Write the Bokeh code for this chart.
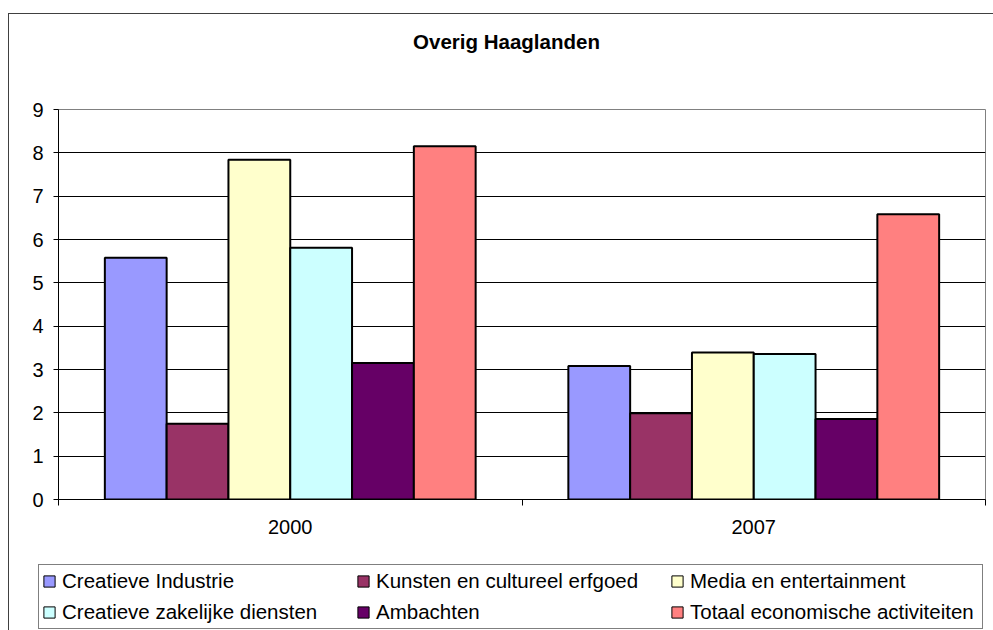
from bokeh.plotting import figure
from bokeh.layouts import column
from bokeh.models import FixedTicker, Legend, LegendItem, ColumnDataSource, Range1d, Label
from bokeh.embed import file_html
from bokeh.resources import INLINE

# ---- data ----
title_text = "Overig Haaglanden"
years = ["2000", "2007"]
series_names = [
    "Creatieve Industrie",
    "Kunsten en cultureel erfgoed",
    "Media en entertainment",
    "Creatieve zakelijke diensten",
    "Ambachten",
    "Totaal economische activiteiten",
]
creatieve_industrie = [5.58, 3.08]
kunsten_erfgoed = [1.75, 1.99]
media_entertainment = [7.84, 3.39]
zakelijke_diensten = [5.81, 3.36]
ambachten = [3.15, 1.86]
totaal_economisch = [8.15, 6.58]
y_ticks = [0, 1, 2, 3, 4, 5, 6, 7, 8, 9]

colors = ["#9999FF", "#993366", "#FFFFCC", "#CCFFFF", "#660066", "#FF8080"]
values = [creatieve_industrie, kunsten_erfgoed, media_entertainment,
          zakelijke_diensten, ambachten, totaal_economisch]

FONT = "Liberation Sans"
W = 984


def bare_figure(height):
    # strip whose visible ranges lie far away from every data value
    f = figure(width=W, height=height, x_range=Range1d(-101, -100), y_range=Range1d(199, 200),
               output_backend="svg", toolbar_location=None, title=None,
               x_axis_type=None, y_axis_type=None,
               min_border_left=0, min_border_right=0, min_border_top=0, min_border_bottom=0)
    if "frame_align" in f.properties():
        f.frame_align = False
    f.outline_line_color = None
    f.background_fill_color = "white"
    f.border_fill_color = "white"
    f.xgrid.visible = False
    f.ygrid.visible = False
    return f


# ---- title strip ----
pt = bare_figure(60)
pt.add_layout(Label(x=497, y=33, x_units="screen", y_units="screen", text=title_text,
                    text_align="center", text_baseline="alphabetic", text_font=FONT,
                    text_font_size="20.5px", text_font_style="bold", text_color="black"))

# ---- chart ----
p = figure(width=W, height=476,
           x_range=Range1d(0, len(years)), y_range=Range1d(y_ticks[0], y_ticks[-1]),
           output_backend="svg", toolbar_location=None,
           min_border_left=49, min_border_right=8,
           min_border_top=35, min_border_bottom=51)
p.background_fill_color = "white"
p.border_fill_color = "white"
p.outline_line_color = "#808080"
p.outline_line_width = 1

n = len(series_names)
group_w = 0.8
bw = group_w / n
sources = []
for i, (vals, col) in enumerate(zip(values, colors)):
    off = -group_w / 2 + bw * (i + 0.5)
    src = ColumnDataSource(dict(x=[k + 0.5 + off for k in range(len(years))], top=vals))
    sources.append(src)
    p.vbar(x="x", top="top", bottom=0, width=bw, source=src,
           fill_color=col, line_color="black", line_width=2)

p.yaxis.ticker = FixedTicker(ticks=y_ticks)
p.yaxis.major_tick_out = 5
p.yaxis.major_tick_in = 0
p.yaxis.minor_tick_line_color = None
p.yaxis.axis_line_color = "black"
p.yaxis.major_tick_line_color = "black"
p.yaxis.major_label_standoff = 10
p.yaxis.major_label_text_font = FONT
p.yaxis.major_label_text_font_size = "20px"
p.yaxis.major_label_text_color = "black"

centers = [k + 0.5 for k in range(len(years))]
p.xaxis.ticker = FixedTicker(ticks=centers, minor_ticks=list(range(len(years) + 1)))
p.xaxis.major_label_overrides = {c: y for c, y in zip(centers, years)}
p.xaxis.major_tick_line_color = None
p.xaxis.major_tick_out = 0
p.xaxis.major_tick_in = 0
p.xaxis.minor_tick_line_color = "black"
p.xaxis.minor_tick_out = 6
p.xaxis.minor_tick_in = 0
p.xaxis.axis_line_color = "black"
p.xaxis.major_label_standoff = 14
p.xaxis.major_label_text_font = FONT
p.xaxis.major_label_text_font_size = "20px"
p.xaxis.major_label_text_color = "black"

p.xgrid.visible = False
p.ygrid.grid_line_color = "black"
p.ygrid.grid_line_width = 1

# ---- legend strip (same data; bars fall outside this strip's visible range) ----
pl = bare_figure(80)
items = []
for name, col, src in zip(series_names, colors, sources):
    sw = pl.vbar(x="x", top="top", bottom=0, width=bw, source=src,
                 fill_color=col, line_color="black", line_width=1)
    items.append(LegendItem(label=name, renderers=[sw]))
legend = Legend(items=items, location=(29, 1), orientation="horizontal", ncols=3,
                glyph_width=14, glyph_height=14, label_standoff=6, label_width=289,
                label_height=26, spacing=5, padding=3, margin=0,
                border_line_color="black", border_line_width=1,
                background_fill_color="white", background_fill_alpha=1,
                label_text_font=FONT, label_text_font_size="20.5px", label_text_color="black")
pl.add_layout(legend)

layout = column(pt, p, pl, spacing=0,
                styles={"border-left": "1px solid #404040", "border-top": "1px solid #404040",
                        "margin-left": "8px", "margin-top": "13px"})

open("out.html", "w").write(file_html(layout, INLINE))
